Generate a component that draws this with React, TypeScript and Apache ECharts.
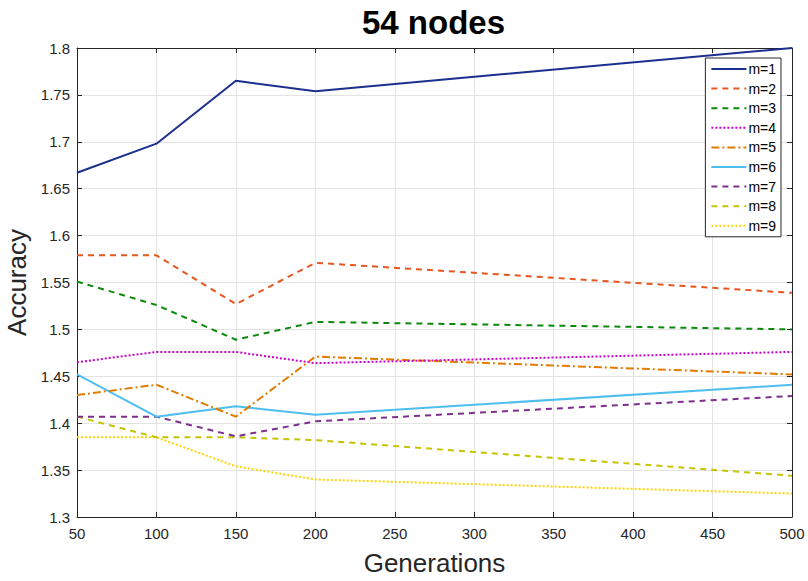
import React, { useEffect, useRef } from "react";
import * as echarts from "echarts";

const generations = [50, 100, 150, 200, 500];
const seriesNames = ["m=1", "m=2", "m=3", "m=4", "m=5", "m=6", "m=7", "m=8", "m=9"];
const m1 = [1.667, 1.698, 1.765, 1.754, 1.8];
const m2 = [1.579, 1.579, 1.527, 1.571, 1.539];
const m3 = [1.551, 1.526, 1.489, 1.508, 1.5];
const m4 = [1.465, 1.476, 1.476, 1.464, 1.476];
const m5 = [1.43, 1.441, 1.407, 1.471, 1.452];
const m6 = [1.452, 1.407, 1.418, 1.409, 1.441];
const m7 = [1.407, 1.407, 1.386, 1.402, 1.429];
const m8 = [1.407, 1.385, 1.385, 1.382, 1.344];
const m9 = [1.385, 1.385, 1.354, 1.34, 1.325];
const allValues = [m1, m2, m3, m4, m5, m6, m7, m8, m9];

const colors = ["#1b2f8f", "#e8561f", "#0b8a0b", "#cc00cc", "#e17c00", "#4dbeee", "#7e2f8e", "#c4c400", "#ffd500"];
const dashTypes: any[] = ["solid", [6, 5], [6, 5], [2, 2], [8, 3, 2, 3], "solid", [6, 5], [6, 5], [2, 2]];

const FONT = "Liberation Sans, Arial, Helvetica, sans-serif";

export default function App() {
  const ref = useRef<HTMLDivElement>(null);
  useEffect(() => {
    document.body.style.margin = "0";
    const chart = echarts.init(ref.current!, null, { renderer: "svg" });
    const axisLine = { show: true, lineStyle: { color: "#262626", width: 1 } };
    chart.setOption({
      animation: false,
      backgroundColor: "#ffffff",
      title: {
        text: "54 nodes",
        left: 362,
        top: 6,
        padding: 0,
        textStyle: { fontSize: 33, fontWeight: "bold", color: "#000", fontFamily: FONT },
      },
      legend: {
        data: seriesNames,
        orient: "vertical",
        right: 27,
        top: 58,
        backgroundColor: "#ffffff",
        borderColor: "#262626",
        borderWidth: 1,
        padding: [4, 5, 4, 5],
        itemWidth: 35,
        itemHeight: 14,
        itemGap: 5.6,
        itemStyle: { opacity: 0 },
        textStyle: { fontSize: 14, color: "#000", fontFamily: FONT, padding: [0, 0, 0, -3] },
      },
      grid: { left: 77, right: 16, top: 48, bottom: 64, containLabel: false, outerBoundsMode: "none" },
      xAxis: [
        {
          type: "value",
          min: 50,
          max: 500,
          interval: 50,
          name: "Generations",
          nameLocation: "middle",
          nameGap: 33,
          nameTextStyle: { fontSize: 26, color: "#262626", fontFamily: FONT },
          axisLine,
          axisTick: { show: true, inside: true, length: 5, lineStyle: { color: "#262626" } },
          axisLabel: { fontSize: 15, color: "#262626", fontFamily: FONT, margin: 9 },
          splitLine: { show: true, lineStyle: { color: "#e3e3e3", width: 1 } },
        },
        {
          type: "value",
          position: "top",
          min: 50,
          max: 500,
          interval: 50,
          axisLine,
          axisTick: { show: true, inside: true, length: 5, lineStyle: { color: "#262626" } },
          axisLabel: { show: false },
          splitLine: { show: false },
        },
      ],
      yAxis: [
        {
          type: "value",
          min: 1.3,
          max: 1.8,
          interval: 0.05,
          name: "Accuracy",
          nameLocation: "middle",
          nameGap: 42,
          nameTextStyle: { fontSize: 26, color: "#262626", fontFamily: FONT },
          axisLine,
          axisTick: { show: true, inside: true, length: 5, lineStyle: { color: "#262626" } },
          axisLabel: { fontSize: 15, color: "#262626", fontFamily: FONT, margin: 7 },
          splitLine: { show: true, lineStyle: { color: "#e3e3e3", width: 1 } },
        },
        {
          type: "value",
          position: "right",
          min: 1.3,
          max: 1.8,
          interval: 0.05,
          axisLine,
          axisTick: { show: true, inside: true, length: 5, lineStyle: { color: "#262626" } },
          axisLabel: { show: false },
          splitLine: { show: false },
        },
      ],
      series: allValues.map((vals, i) => ({
        name: seriesNames[i],
        type: "line",
        data: generations.map((g, j) => [g, vals[j]]),
        symbol: "none",
        showSymbol: false,
        color: colors[i],
        lineStyle: { color: colors[i], width: 2, type: dashTypes[i] },
        xAxisIndex: 0,
        yAxisIndex: 0,
        z: 10 - i,
      })),
    });
    return () => chart.dispose();
  }, []);
  return <div ref={ref} style={{ width: 808, height: 581 }} />;
}
